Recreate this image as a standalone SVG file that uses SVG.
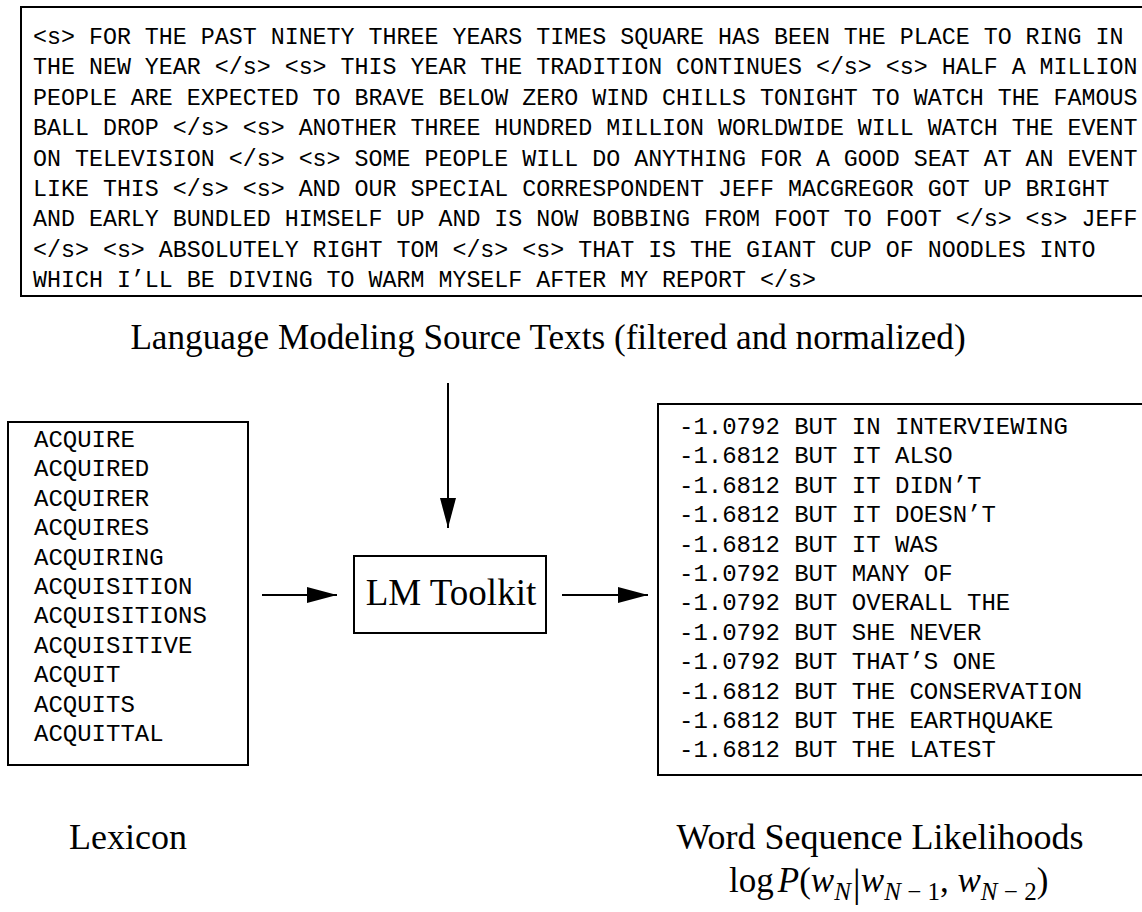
<svg xmlns="http://www.w3.org/2000/svg" width="1142" height="912" viewBox="0 0 1142 912">
<style>
.box{fill:none;stroke:#000;stroke-width:2}
.mono{font-family:"Liberation Mono","Courier New",monospace;fill:#000}
.serif{font-family:"Liberation Serif","Times New Roman",serif;fill:#000}
.cap{font-size:36px;text-anchor:middle}
.edge{stroke:#000;stroke-width:2;fill:none;marker-end:url(#ah)}
</style>
<defs>
<marker id="ah" viewBox="0 0 30 16" refX="30" refY="8" markerWidth="30" markerHeight="16" markerUnits="userSpaceOnUse" orient="auto">
<path d="M0,0 L30,8 L0,16 Z" fill="#000"/>
</marker>
</defs>
<g id="source">
<rect class="box" x="21" y="7" width="1200" height="289"/>
<text class="mono" font-size="23.3" x="33">
<tspan x="33" y="44">&lt;s&gt; FOR THE PAST NINETY THREE YEARS TIMES SQUARE HAS BEEN THE PLACE TO RING IN</tspan>
<tspan x="33" y="74.4">THE NEW YEAR &lt;/s&gt; &lt;s&gt; THIS YEAR THE TRADITION CONTINUES &lt;/s&gt; &lt;s&gt; HALF A MILLION</tspan>
<tspan x="33" y="104.8">PEOPLE ARE EXPECTED TO BRAVE BELOW ZERO WIND CHILLS TONIGHT TO WATCH THE FAMOUS</tspan>
<tspan x="33" y="135.2">BALL DROP &lt;/s&gt; &lt;s&gt; ANOTHER THREE HUNDRED MILLION WORLDWIDE WILL WATCH THE EVENT</tspan>
<tspan x="33" y="165.6">ON TELEVISION &lt;/s&gt; &lt;s&gt; SOME PEOPLE WILL DO ANYTHING FOR A GOOD SEAT AT AN EVENT</tspan>
<tspan x="33" y="196">LIKE THIS &lt;/s&gt; &lt;s&gt; AND OUR SPECIAL CORRESPONDENT JEFF MACGREGOR GOT UP BRIGHT</tspan>
<tspan x="33" y="226.4">AND EARLY BUNDLED HIMSELF UP AND IS NOW BOBBING FROM FOOT TO FOOT &lt;/s&gt; &lt;s&gt; JEFF</tspan>
<tspan x="33" y="256.8">&lt;/s&gt; &lt;s&gt; ABSOLUTELY RIGHT TOM &lt;/s&gt; &lt;s&gt; THAT IS THE GIANT CUP OF NOODLES INTO</tspan>
<tspan x="33" y="287.2">WHICH I’LL BE DIVING TO WARM MYSELF AFTER MY REPORT &lt;/s&gt;</tspan>
</text>
<text class="serif cap" x="548" y="349" style="font-size:35.2px">Language Modeling Source Texts (filtered and normalized)</text>
</g>
<g id="lexicon">
<rect class="box" x="8" y="422" width="240" height="343"/>
<text class="mono" font-size="24">
<tspan x="34" y="447">ACQUIRE</tspan>
<tspan x="34" y="476.4">ACQUIRED</tspan>
<tspan x="34" y="505.8">ACQUIRER</tspan>
<tspan x="34" y="535.2">ACQUIRES</tspan>
<tspan x="34" y="564.6">ACQUIRING</tspan>
<tspan x="34" y="594">ACQUISITION</tspan>
<tspan x="34" y="623.4">ACQUISITIONS</tspan>
<tspan x="34" y="652.8">ACQUISITIVE</tspan>
<tspan x="34" y="682.2">ACQUIT</tspan>
<tspan x="34" y="711.6">ACQUITS</tspan>
<tspan x="34" y="741">ACQUITTAL</tspan>
</text>
<text class="serif cap" x="128" y="849">Lexicon</text>
</g>
<g id="toolkit">
<rect class="box" x="354" y="556" width="192" height="77"/>
<text class="serif" font-size="37" x="451" y="605" text-anchor="middle">LM Toolkit</text>
</g>
<g id="likelihoods">
<rect class="box" x="658" y="404" width="600" height="371"/>
<text class="mono" font-size="24">
<tspan x="679" y="434">-1.0792 BUT IN INTERVIEWING</tspan>
<tspan x="679" y="463.4">-1.6812 BUT IT ALSO</tspan>
<tspan x="679" y="492.8">-1.6812 BUT IT DIDN’T</tspan>
<tspan x="679" y="522.2">-1.6812 BUT IT DOESN’T</tspan>
<tspan x="679" y="551.6">-1.6812 BUT IT WAS</tspan>
<tspan x="679" y="581">-1.0792 BUT MANY OF</tspan>
<tspan x="679" y="610.4">-1.0792 BUT OVERALL THE</tspan>
<tspan x="679" y="639.8">-1.0792 BUT SHE NEVER</tspan>
<tspan x="679" y="669.2">-1.0792 BUT THAT’S ONE</tspan>
<tspan x="679" y="698.6">-1.6812 BUT THE CONSERVATION</tspan>
<tspan x="679" y="728">-1.6812 BUT THE EARTHQUAKE</tspan>
<tspan x="679" y="757.4">-1.6812 BUT THE LATEST</tspan>
</text>
<text class="serif cap" x="880" y="849">Word Sequence Likelihoods</text>
<text class="serif" font-size="35" x="729" y="892">log<tspan font-style="italic" dx="4">P</tspan>(<tspan font-style="italic">w</tspan><tspan font-style="italic" font-size="25" dy="8">N</tspan><tspan font-size="40" dy="-4" dx="2">|</tspan><tspan font-style="italic" dy="-4">w</tspan><tspan font-size="25" dy="8"><tspan font-style="italic">N</tspan> − 1</tspan><tspan dy="-8">, </tspan><tspan font-style="italic">w</tspan><tspan font-size="25" dy="8"><tspan font-style="italic">N</tspan> − 2</tspan><tspan dy="-8">)</tspan></text>
</g>
<g id="connectors">
<line class="edge" x1="448" y1="383" x2="448" y2="528"/>
<line class="edge" x1="262" y1="595" x2="337" y2="595"/>
<line class="edge" x1="562" y1="595" x2="648" y2="595"/>
</g>
</svg>
